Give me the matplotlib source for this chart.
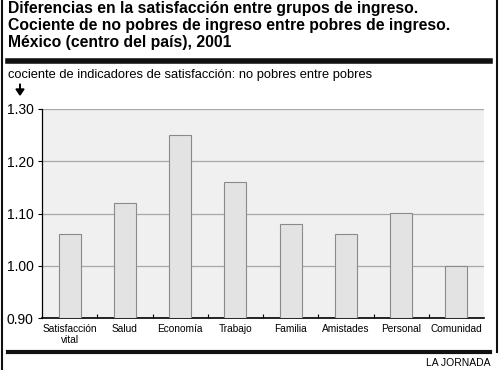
import matplotlib
matplotlib.use("Agg")
import matplotlib.pyplot as plt
from matplotlib.lines import Line2D

categorias = ["Satisfacción\nvital", "Salud", "Economía", "Trabajo",
              "Familia", "Amistades", "Personal", "Comunidad"]
cocientes = [1.06, 1.12, 1.25, 1.16, 1.08, 1.06, 1.10, 1.00]
yticks = [0.90, 1.00, 1.10, 1.20, 1.30]

plt.rcParams['font.family'] = ['Liberation Sans', 'DejaVu Sans']

fig = plt.figure(figsize=(5, 3.7), dpi=100)
W, H = 500.0, 370.0

# titulo
fig.text(8 / W, 1 - 1 / H,
         "Diferencias en la satisfacción entre grupos de ingreso.\n"
         "Cociente de no pobres de ingreso entre pobres de ingreso.\n"
         "México (centro del país), 2001",
         ha="left", va="top", fontsize=11.3, fontweight="bold",
         linespacing=1.17)

# barras negras y marco
fig.add_artist(Line2D([8 / W, 490 / W], [1 - 61 / H, 1 - 61 / H], color="#111111", lw=4))
fig.add_artist(Line2D([8 / W, 490 / W], [1 - 352 / H, 1 - 352 / H], color="#111111", lw=3))
fig.add_artist(Line2D([2 / W, 2 / W], [0, 1], color="#111111", lw=1.5))
fig.add_artist(Line2D([497 / W, 497 / W], [1 - 352 / H, 1], color="#111111", lw=1.5))

fig.text(8 / W, 1 - 75 / H, "cociente de indicadores de satisfacción: no pobres entre pobres",
         ha="left", va="center", fontsize=9.3)
fig.add_artist(matplotlib.patches.FancyArrow(20 / W, 1 - 84 / H, 0, -11 / H,
                                             width=0.0006, head_width=8 / W,
                                             head_length=6 / H, color="black",
                                             length_includes_head=True))

ax = fig.add_axes([42 / W, 1 - 318 / H, 442 / W, 209 / H])
ax.set_facecolor("#f0f0f0")
x = range(len(categorias))
ax.bar(x, [c - 0.9 for c in cocientes], bottom=0.9, width=0.4,
       color="#e3e3e3", edgecolor="#8a8a8a", linewidth=0.8, zorder=3)

ax.set_xlim(-0.5, len(categorias) - 0.5)
ax.set_ylim(0.9, 1.3)
ax.set_yticks(yticks)
ax.set_yticklabels(["%.2f" % v for v in yticks], fontsize=10)
ax.yaxis.grid(True, color="#a8a8a8", lw=0.9, zorder=1)
ax.set_xticks(list(x))
ax.set_xticklabels(categorias, fontsize=7.3)
ax.set_xticks([i + 0.5 for i in range(len(categorias) - 1)], minor=True)
ax.tick_params(axis="x", which="major", length=0, pad=4)
ax.tick_params(axis="x", which="minor", length=3, direction="in", width=0.8)
ax.tick_params(axis="y", length=3, width=0.8, pad=3)
for s in ["top", "right"]:
    ax.spines[s].set_visible(False)
ax.spines["left"].set_linewidth(0.9)
ax.spines["bottom"].set_linewidth(1.2)

fig.text(490 / W, 1 - 363 / H, "LA JORNADA", ha="right", va="center", fontsize=7.5)

fig.savefig("out.png", dpi=100)
